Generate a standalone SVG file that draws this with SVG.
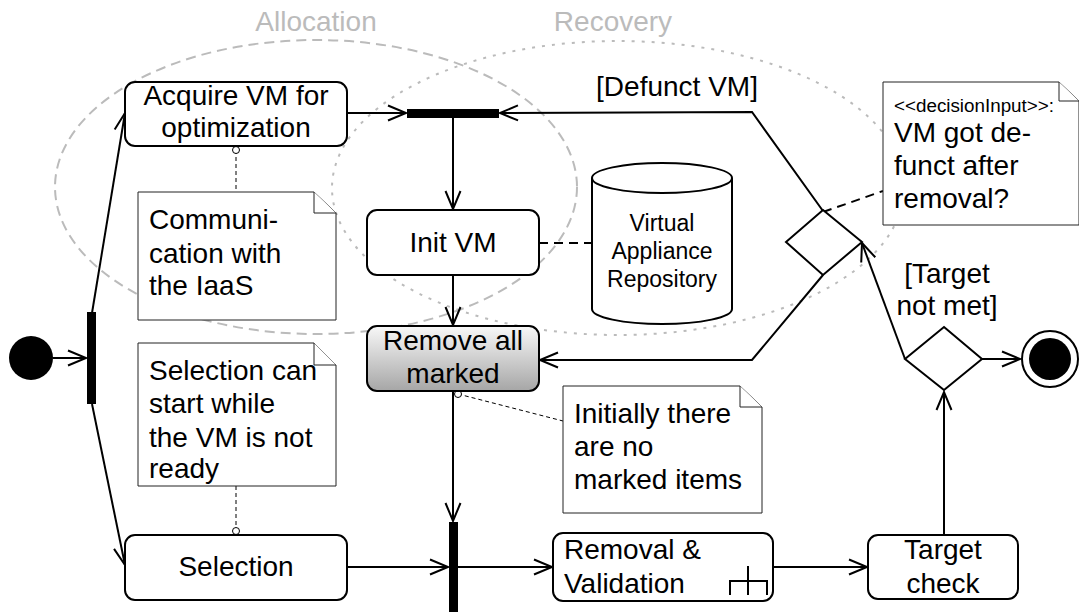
<svg xmlns="http://www.w3.org/2000/svg" width="1079" height="612" viewBox="0 0 1079 612">
<defs>
<marker id="arr" markerUnits="userSpaceOnUse" markerWidth="24" markerHeight="20" viewBox="-20 -10 22 20" refX="0" refY="0" orient="auto" overflow="visible">
<path d="M-18,-7.5 L0,0 L-18,7.5" fill="none" stroke="#000" stroke-width="2"/>
</marker>
<linearGradient id="grad" x1="0" y1="0" x2="0" y2="1">
<stop offset="0" stop-color="#f8f8f8"/>
<stop offset="1" stop-color="#a6a6a6"/>
</linearGradient>
<style>
text{font-family:"Liberation Sans",Arial,Helvetica,sans-serif;font-size:28px;fill:#000}
.mid{text-anchor:middle}
.box{fill:#fff;stroke:#000;stroke-width:2}
.note{fill:#fff;stroke:#222;stroke-width:1}
.edge{fill:none;stroke:#000;stroke-width:2}
.anchor{fill:none;stroke:#000;stroke-width:1;stroke-dasharray:4 3}
.thickdash{fill:none;stroke:#000;stroke-width:2;stroke-dasharray:9 6}
.grp{fill:none;stroke:#bbb;stroke-width:2}
.lbl{fill:#bbb}
</style>
</defs>
<rect width="1079" height="612" fill="#fff"/>

<g id="groups">
<ellipse cx="316" cy="187" rx="261" ry="147" class="grp" stroke-dasharray="10 6"/>
<ellipse cx="618" cy="188" rx="286" ry="147" class="grp" stroke-dasharray="3 7"/>
<text x="316" y="31" class="mid lbl">Allocation</text>
<text x="613" y="31" class="mid lbl">Recovery</text>
</g>

<g id="connectors">
<line x1="53" y1="358" x2="86" y2="358" class="edge" marker-end="url(#arr)"/>
<line x1="92" y1="313" x2="125" y2="113" class="edge" marker-end="url(#arr)"/>
<line x1="92" y1="404" x2="125" y2="565" class="edge" marker-end="url(#arr)"/>
<line x1="347" y1="113" x2="406" y2="113" class="edge" marker-end="url(#arr)"/>
<polyline points="823,211 752,112 500,113" class="edge" marker-end="url(#arr)"/>
<line x1="453" y1="118" x2="453" y2="209" class="edge" marker-end="url(#arr)"/>
<line x1="453" y1="275" x2="453" y2="325" class="edge" marker-end="url(#arr)"/>
<line x1="453" y1="391" x2="453" y2="521" class="edge" marker-end="url(#arr)"/>
<line x1="347" y1="567" x2="448" y2="567" class="edge" marker-end="url(#arr)"/>
<line x1="458" y1="567" x2="552" y2="567" class="edge" marker-end="url(#arr)"/>
<line x1="773" y1="567" x2="867" y2="567" class="edge" marker-end="url(#arr)"/>
<line x1="944" y1="535" x2="944" y2="392" class="edge" marker-end="url(#arr)"/>
<line x1="905" y1="359" x2="862" y2="243" class="edge" marker-end="url(#arr)"/>
<polyline points="823,275 752,360 540,360" class="edge" marker-end="url(#arr)"/>
<line x1="982" y1="359" x2="1020" y2="359" class="edge" marker-end="url(#arr)"/>
<line x1="539" y1="243" x2="592" y2="243" class="thickdash"/>
<line x1="823" y1="212" x2="883" y2="191" class="thickdash"/>
<line x1="236" y1="150" x2="236" y2="192" class="anchor"/>
<circle cx="236" cy="150" r="3.5" fill="#fff" stroke="#000" stroke-width="1"/>
<line x1="236" y1="486" x2="236" y2="531" class="anchor"/>
<circle cx="236" cy="531" r="3.5" fill="#fff" stroke="#000" stroke-width="1"/>
<line x1="458" y1="394" x2="563" y2="421" class="anchor"/>
<circle cx="458" cy="394" r="3.5" fill="#fff" stroke="#000" stroke-width="1"/>
<text x="677" y="96" class="mid">[Defunct VM]</text>
<text x="947" y="283" class="mid">[Target</text>
<text x="947" y="315" class="mid">not met]</text>
</g>

<g id="initial"><circle cx="31" cy="358" r="22" fill="#000"/></g>
<g id="fork1"><rect x="87" y="312" width="9" height="92" fill="#000"/></g>
<g id="fork2"><rect x="407" y="109" width="92" height="9" fill="#000"/></g>
<g id="join"><rect x="449" y="522" width="9" height="92" fill="#000"/></g>

<g id="acquire">
<rect x="125" y="82" width="222" height="64" rx="10" class="box"/>
<text x="236" y="105" class="mid">Acquire VM for</text>
<text x="236" y="137" class="mid">optimization</text>
</g>

<g id="note-communication">
<path d="M138,192 H314 L336,213 V320 H138 Z" class="note"/>
<path d="M314,192 V213 H336" class="note"/>
<text x="149" y="229">Communi-</text>
<text x="149" y="263">cation with</text>
<text x="149" y="295">the IaaS</text>
</g>

<g id="note-selection">
<path d="M138,343 H314 L336,365 V486 H138 Z" class="note"/>
<path d="M314,343 V365 H336" class="note"/>
<text x="149" y="380">Selection can</text>
<text x="149" y="413">start while</text>
<text x="149" y="447">the VM is not</text>
<text x="149" y="478">ready</text>
</g>

<g id="selection">
<rect x="125" y="535" width="222" height="65" rx="10" class="box"/>
<text x="236" y="576" class="mid">Selection</text>
</g>

<g id="initvm">
<rect x="367" y="210" width="172" height="65" rx="10" class="box"/>
<text x="453" y="252" class="mid">Init VM</text>
</g>

<g id="repository">
<path d="M592,178 V309 A70,15 0 0 0 732,309 V178" class="box"/>
<ellipse cx="662" cy="178" rx="70" ry="15" class="box"/>
<text x="662" y="231" class="mid" style="font-size:23px">Virtual</text>
<text x="662" y="259" class="mid" style="font-size:23px">Appliance</text>
<text x="662" y="287" class="mid" style="font-size:23px">Repository</text>
</g>

<g id="remove">
<rect x="367" y="326" width="172" height="65" rx="10" fill="url(#grad)" stroke="#000" stroke-width="2"/>
<text x="453" y="350" class="mid">Remove all</text>
<text x="453" y="383" class="mid">marked</text>
</g>

<g id="note-initially">
<path d="M563,386 H740 L762,407 V513 H563 Z" class="note"/>
<path d="M740,386 V407 H762" class="note"/>
<text x="574" y="423">Initially there</text>
<text x="574" y="456">are no</text>
<text x="574" y="489">marked items</text>
</g>

<g id="removal">
<rect x="553" y="533" width="220" height="68" rx="10" class="box"/>
<text x="564" y="559">Removal &amp;</text>
<text x="564" y="593">Validation</text>
<path d="M730,595 V581 H767 V595 M748,566 V595" class="edge"/>
</g>

<g id="target">
<rect x="868" y="535" width="150" height="64" rx="10" class="box"/>
<text x="943" y="559" class="mid">Target</text>
<text x="943" y="593" class="mid">check</text>
</g>

<g id="decision1"><polygon points="823,210 862,242 823,275 786,242" class="box"/></g>
<g id="decision2"><polygon points="944,327 982,359 944,390 905,359" class="box"/></g>

<g id="note-decision">
<path d="M883,82 H1059 L1079,101 V225 H883 Z" class="note"/>
<path d="M1059,82 V101 H1079" class="note"/>
<text x="894" y="112" style="font-size:18px" textLength="160" lengthAdjust="spacingAndGlyphs">&lt;&lt;decisionInput&gt;&gt;:</text>
<text x="894" y="142">VM got de-</text>
<text x="894" y="175">funct after</text>
<text x="894" y="208">removal?</text>
</g>

<g id="final">
<circle cx="1050" cy="359" r="28" fill="#fff" stroke="#000" stroke-width="2"/>
<circle cx="1050" cy="359" r="21" fill="#000"/>
</g>
</svg>
